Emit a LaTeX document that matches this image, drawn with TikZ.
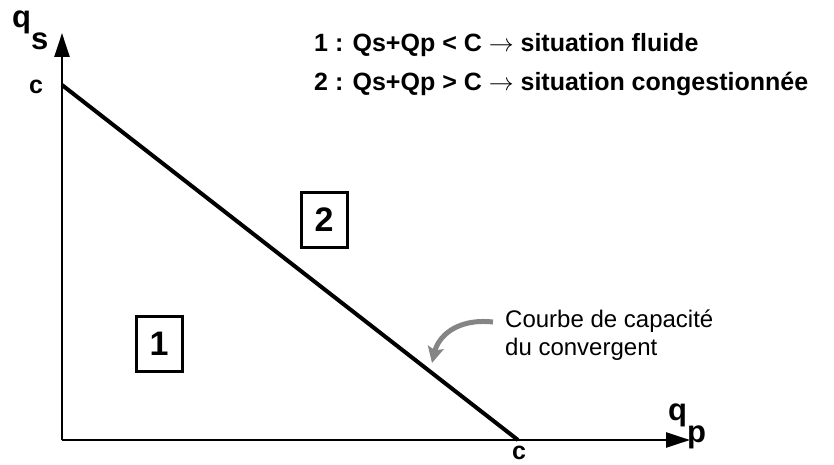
\documentclass[tikz,border=0pt]{standalone}
\usepackage{fontspec}
\setmainfont{Liberation Sans}
\usetikzlibrary{arrows.meta}
\definecolor{pointergray}{HTML}{858585}
\tikzset{
  >=Latex,
  axisline/.style={line width=2.4pt, -{Triangle[length=24pt,width=15pt]}},
  capline/.style={line width=4pt},
  zonebox/.style={draw, line width=3pt, minimum width=46pt, minimum height=55pt,
    inner sep=0pt, font=\fontsize{34}{34}\selectfont\bfseries},
  axislabel/.style={inner sep=0pt, font=\fontsize{31}{31}\selectfont\bfseries},
  tick/.style={inner sep=0pt, font=\fontsize{25}{25}\selectfont\bfseries},
  legend/.style={inner sep=0pt, anchor=base west, font=\fontsize{25}{25}\selectfont\bfseries},
  note/.style={inner sep=0pt, anchor=base west, align=left,
    font=\fontsize{24}{28}\selectfont},
  pointer/.style={line width=5pt, draw=pointergray,
    -{Stealth[length=16pt,width=16pt,inset=3pt]}}
}
\begin{document}
\begin{tikzpicture}[x=1pt,y=-1pt]
\useasboundingbox (0,0) rectangle (834,465);
% axes
\coordinate (o) at (62,440);
\coordinate (ytip) at (62,33);
\coordinate (xtip) at (690,440);
\draw[axisline] (o) -- (ytip);
\draw[axisline] (o) -- (xtip);
\node[axislabel, anchor=base west] (qs) at (12,28) {q\raisebox{-22pt}{s}};
\node[axislabel, anchor=base west] (qp) at (668,420) {q\raisebox{-22pt}{p}};
% capacity curve
\coordinate (cs) at (62,85);
\coordinate (cp) at (518,440);
\draw[capline] (cs) -- (cp);
\node[tick] (cleft) at (36,87) {c};
\node[tick] (cbottom) at (519,453) {c};
% zones
\node[zonebox] (z1) at (159,344) {1};
\node[zonebox] (z2) at (324,220) {2};
% legend
\node[legend] (l1) at (314,52) {1 : Qs+Qp < C $\rightarrow$ situation fluide};
\node[legend] (l2) at (314,91) {2 : Qs+Qp > C $\rightarrow$ situation congestionnée};
% annotation
\node[note] (courbe1) at (505,327) {Courbe de capacité};
\node[note] (courbe2) at (505,355) {du convergent};
\coordinate (tail) at (493,322);
\coordinate (hit) at (432,363);
\draw[pointer] (tail) .. controls (455,318) and (438,338) .. (hit);
\end{tikzpicture}
\end{document}
